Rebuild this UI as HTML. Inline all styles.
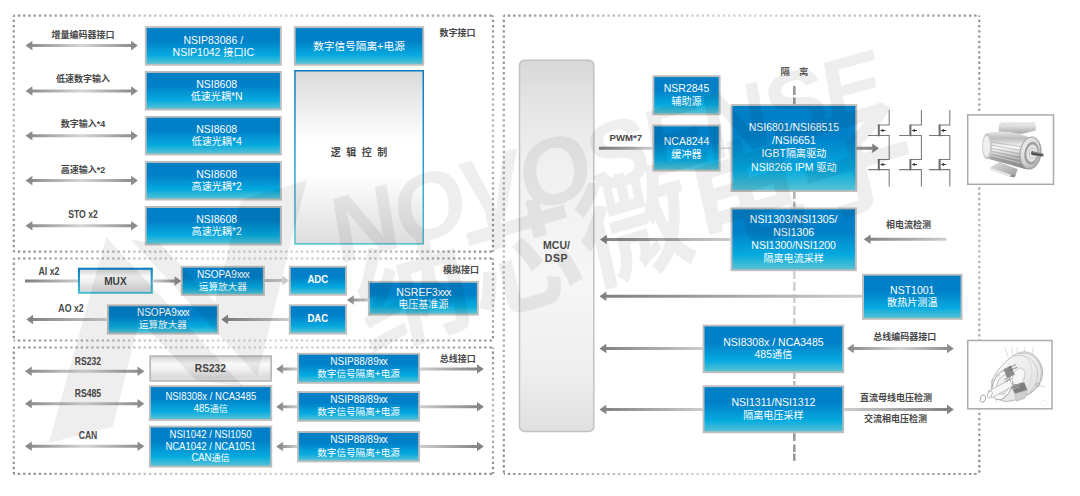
<!DOCTYPE html>
<html lang="zh"><head><meta charset="utf-8"><title>Servo drive block diagram</title>
<style>
html,body{margin:0;padding:0;background:#fff}
#c{position:relative;width:1080px;height:496px;overflow:hidden;background:#fff;font-family:"Liberation Sans","Noto Sans CJK SC",sans-serif}
#c svg{position:absolute;left:0;top:0}
.bt{position:absolute;display:flex;align-items:center;justify-content:center;text-align:center;color:#fff;white-space:nowrap;box-sizing:border-box}
.bt.b{font-weight:bold}
.wt{position:absolute;display:flex;align-items:center;justify-content:center;text-align:center;color:#444;font-weight:bold;white-space:nowrap}
.lb{position:absolute;text-align:center;color:#484848;font-weight:bold;white-space:nowrap;line-height:16px;height:16px}
.x{letter-spacing:-1px}
.c{font-size:0.96em}
</style></head>
<body><div id="c">
<svg width="1080" height="496" viewBox="0 0 1080 496">
<defs>
<linearGradient id="gblue" x1="0" y1="0" x2="0" y2="1"><stop offset="0" stop-color="#007fc7"/><stop offset="0.36" stop-color="#0080c8"/><stop offset="0.76" stop-color="#05aadf"/><stop offset="1" stop-color="#56c2d4"/></linearGradient>
<linearGradient id="gwhite" x1="0" y1="0" x2="0" y2="1"><stop offset="0" stop-color="#d6d6d6"/><stop offset="0.3" stop-color="#fafafa"/><stop offset="0.55" stop-color="#f0f0f0"/><stop offset="0.9" stop-color="#d9d9d9"/><stop offset="1" stop-color="#e4e4e4"/></linearGradient>
<linearGradient id="gbord" x1="0" y1="0" x2="0" y2="1"><stop offset="0" stop-color="#0a7cc4"/><stop offset="1" stop-color="#4cc0d2"/></linearGradient>
<linearGradient id="glogic" x1="0" y1="0" x2="0" y2="1"><stop offset="0" stop-color="#dadada"/><stop offset="0.4" stop-color="#ffffff"/><stop offset="0.6" stop-color="#ffffff"/><stop offset="1" stop-color="#dddddd"/></linearGradient>
<linearGradient id="gmcu" x1="0" y1="0" x2="0" y2="1"><stop offset="0" stop-color="#d8d8d8"/><stop offset="0.14" stop-color="#e7e7e7"/><stop offset="0.3" stop-color="#f1f1f1"/><stop offset="0.6" stop-color="#f6f6f6"/><stop offset="0.85" stop-color="#eeeeee"/><stop offset="1" stop-color="#e0e0e0"/></linearGradient>
<linearGradient id="gdot" x1="0" y1="0" x2="1" y2="0"><stop offset="0" stop-color="#9a9a9a"/><stop offset="0.5" stop-color="#d2d2d2"/><stop offset="1" stop-color="#9a9a9a"/></linearGradient>
<linearGradient id="gL" x1="0" y1="0" x2="1" y2="0"><stop offset="0" stop-color="#7f7f7f"/><stop offset="1" stop-color="#cdcdcd"/></linearGradient>
<linearGradient id="gR" x1="0" y1="0" x2="1" y2="0"><stop offset="0" stop-color="#cdcdcd"/><stop offset="1" stop-color="#7f7f7f"/></linearGradient>
<linearGradient id="gRl" x1="0" y1="0" x2="1" y2="0"><stop offset="0" stop-color="#b5b5b5"/><stop offset="1" stop-color="#d0d0d0"/></linearGradient>
<linearGradient id="gRd" x1="0" y1="0" x2="1" y2="0"><stop offset="0" stop-color="#999"/><stop offset="1" stop-color="#777"/></linearGradient>
<linearGradient id="gD" x1="0" y1="0" x2="1" y2="0"><stop offset="0" stop-color="#858585"/><stop offset="0.5" stop-color="#d6d6d6"/><stop offset="1" stop-color="#858585"/></linearGradient>
<linearGradient id="mbody" x1="0" y1="0" x2="0" y2="1"><stop offset="0" stop-color="#e9e9e9"/><stop offset="0.18" stop-color="#bdbdbd"/><stop offset="0.42" stop-color="#f6f6f6"/><stop offset="0.7" stop-color="#a6a6a6"/><stop offset="1" stop-color="#858585"/></linearGradient>
<linearGradient id="mbox" x1="0" y1="0" x2="0" y2="1"><stop offset="0" stop-color="#e6e6e6"/><stop offset="1" stop-color="#a8a8a8"/></linearGradient>
<radialGradient id="mfl" cx="0.4" cy="0.4" r="0.7"><stop offset="0" stop-color="#ffffff"/><stop offset="0.6" stop-color="#d6d6d6"/><stop offset="1" stop-color="#9a9a9a"/></radialGradient>
<linearGradient id="mfoot" x1="0" y1="0" x2="1" y2="1"><stop offset="0" stop-color="#dedede"/><stop offset="1" stop-color="#9c9c9c"/></linearGradient>
<linearGradient id="ebody" x1="0" y1="0" x2="1" y2="1"><stop offset="0" stop-color="#fdfdfd"/><stop offset="1" stop-color="#dcdcdc"/></linearGradient>
<linearGradient id="ph1" gradientUnits="userSpaceOnUse" x1="13.8" y1="0" x2="493.0" y2="0"><stop offset="0" stop-color="#8e8e8e"/><stop offset="0.25" stop-color="#bdbdbd"/><stop offset="0.5" stop-color="#d4d4d4"/><stop offset="0.75" stop-color="#bdbdbd"/><stop offset="1" stop-color="#8e8e8e"/></linearGradient><linearGradient id="pv1" gradientUnits="userSpaceOnUse" x1="0" y1="15.6" x2="0" y2="251.7"><stop offset="0" stop-color="#8e8e8e"/><stop offset="0.3" stop-color="#acacac"/><stop offset="0.5" stop-color="#b6b6b6"/><stop offset="0.7" stop-color="#acacac"/><stop offset="1" stop-color="#8e8e8e"/></linearGradient><linearGradient id="ph2" gradientUnits="userSpaceOnUse" x1="13.8" y1="0" x2="493.0" y2="0"><stop offset="0" stop-color="#8e8e8e"/><stop offset="0.25" stop-color="#bdbdbd"/><stop offset="0.5" stop-color="#d4d4d4"/><stop offset="0.75" stop-color="#bdbdbd"/><stop offset="1" stop-color="#8e8e8e"/></linearGradient><linearGradient id="pv2" gradientUnits="userSpaceOnUse" x1="0" y1="258.5" x2="0" y2="340.5"><stop offset="0" stop-color="#8e8e8e"/><stop offset="0.3" stop-color="#acacac"/><stop offset="0.5" stop-color="#b6b6b6"/><stop offset="0.7" stop-color="#acacac"/><stop offset="1" stop-color="#8e8e8e"/></linearGradient><linearGradient id="ph3" gradientUnits="userSpaceOnUse" x1="13.8" y1="0" x2="493.0" y2="0"><stop offset="0" stop-color="#8e8e8e"/><stop offset="0.25" stop-color="#bdbdbd"/><stop offset="0.5" stop-color="#d4d4d4"/><stop offset="0.75" stop-color="#bdbdbd"/><stop offset="1" stop-color="#8e8e8e"/></linearGradient><linearGradient id="pv3" gradientUnits="userSpaceOnUse" x1="0" y1="347.5" x2="0" y2="473.8"><stop offset="0" stop-color="#8e8e8e"/><stop offset="0.3" stop-color="#acacac"/><stop offset="0.5" stop-color="#b6b6b6"/><stop offset="0.7" stop-color="#acacac"/><stop offset="1" stop-color="#8e8e8e"/></linearGradient><linearGradient id="ph4" gradientUnits="userSpaceOnUse" x1="503.8" y1="0" x2="979.3" y2="0"><stop offset="0" stop-color="#8e8e8e"/><stop offset="0.25" stop-color="#bdbdbd"/><stop offset="0.5" stop-color="#d4d4d4"/><stop offset="0.75" stop-color="#bdbdbd"/><stop offset="1" stop-color="#8e8e8e"/></linearGradient><linearGradient id="pv4" gradientUnits="userSpaceOnUse" x1="0" y1="15.6" x2="0" y2="474.0"><stop offset="0" stop-color="#8e8e8e"/><stop offset="0.3" stop-color="#acacac"/><stop offset="0.5" stop-color="#b6b6b6"/><stop offset="0.7" stop-color="#acacac"/><stop offset="1" stop-color="#8e8e8e"/></linearGradient></defs>
<path d="M13.8 15.6H493.0M13.8 251.7H493.0" fill="none" stroke="url(#ph1)" stroke-width="2.2" stroke-dasharray="2.3 2.94" stroke-dashoffset="1.15"/>
<path d="M13.8 15.6V251.7M493.0 15.6V251.7" fill="none" stroke="url(#pv1)" stroke-width="2.2" stroke-dasharray="2.3 2.94" stroke-dashoffset="1.15"/>
<path d="M13.8 258.5H493.0M13.8 340.5H493.0" fill="none" stroke="url(#ph2)" stroke-width="2.2" stroke-dasharray="2.3 2.94" stroke-dashoffset="1.15"/>
<path d="M13.8 258.5V340.5M493.0 258.5V340.5" fill="none" stroke="url(#pv2)" stroke-width="2.2" stroke-dasharray="2.3 2.94" stroke-dashoffset="1.15"/>
<path d="M13.8 347.5H493.0M13.8 473.8H493.0" fill="none" stroke="url(#ph3)" stroke-width="2.2" stroke-dasharray="2.3 2.94" stroke-dashoffset="1.15"/>
<path d="M13.8 347.5V473.8M493.0 347.5V473.8" fill="none" stroke="url(#pv3)" stroke-width="2.2" stroke-dasharray="2.3 2.94" stroke-dashoffset="1.15"/>
<path d="M503.8 15.6H979.3M503.8 474.0H979.3" fill="none" stroke="url(#ph4)" stroke-width="2.2" stroke-dasharray="2.3 2.94" stroke-dashoffset="1.15"/>
<path d="M503.8 15.6V474.0M979.3 15.6V474.0" fill="none" stroke="url(#pv4)" stroke-width="2.2" stroke-dasharray="2.3 2.94" stroke-dashoffset="1.15"/>
<rect x="144.8" y="26.2" width="137.0" height="39.5" fill="#bebebe"/>
<rect x="146.7" y="28.1" width="133.2" height="35.7" fill="url(#gblue)"/>
<polygon points="25.60,45.60 32.40,40.80 32.40,44.10 131.00,44.10 131.00,40.80 137.80,45.60 131.00,50.40 131.00,47.10 32.40,47.10 32.40,50.40" fill="url(#gD)"/>
<rect x="144.8" y="71.0" width="137.0" height="39.5" fill="#bebebe"/>
<rect x="146.7" y="72.9" width="133.2" height="35.7" fill="url(#gblue)"/>
<polygon points="25.60,91.00 32.40,86.20 32.40,89.50 131.00,89.50 131.00,86.20 137.80,91.00 131.00,95.80 131.00,92.50 32.40,92.50 32.40,95.80" fill="url(#gD)"/>
<rect x="144.8" y="115.9" width="137.0" height="39.5" fill="#bebebe"/>
<rect x="146.7" y="117.8" width="133.2" height="35.7" fill="url(#gblue)"/>
<polygon points="25.60,135.80 32.40,131.00 32.40,134.30 131.00,134.30 131.00,131.00 137.80,135.80 131.00,140.60 131.00,137.30 32.40,137.30 32.40,140.60" fill="url(#gD)"/>
<rect x="144.8" y="161.0" width="137.0" height="39.5" fill="#bebebe"/>
<rect x="146.7" y="162.9" width="133.2" height="35.7" fill="url(#gblue)"/>
<polygon points="25.60,180.60 32.40,175.80 32.40,179.10 131.00,179.10 131.00,175.80 137.80,180.60 131.00,185.40 131.00,182.10 32.40,182.10 32.40,185.40" fill="url(#gD)"/>
<rect x="144.8" y="206.0" width="137.0" height="39.5" fill="#bebebe"/>
<rect x="146.7" y="207.9" width="133.2" height="35.7" fill="url(#gblue)"/>
<polygon points="25.60,225.80 32.40,221.00 32.40,224.30 131.00,224.30 131.00,221.00 137.80,225.80 131.00,230.60 131.00,227.30 32.40,227.30 32.40,230.60" fill="url(#gD)"/>
<rect x="293.8" y="26.2" width="130.4" height="39.5" fill="#bebebe"/>
<rect x="295.7" y="28.1" width="126.6" height="35.7" fill="url(#gblue)"/>
<rect x="294.2" y="70" width="129.8" height="174.6" fill="url(#gbord)"/>
<rect x="295.7" y="71.5" width="126.8" height="171.6" fill="url(#glogic)"/>
<polygon points="25.00,279.50 79.00,279.50 79.00,282.50 25.00,282.50" fill="url(#gL)"/>
<rect x="77.9" y="267.7" width="74.9" height="26.1" fill="url(#gbord)"/>
<rect x="80.0" y="269.8" width="70.7" height="21.9" fill="url(#gwhite)"/>
<polygon points="152.50,279.50 174.50,279.50 174.50,276.20 181.30,281.00 174.50,285.80 174.50,282.50 152.50,282.50" fill="url(#gR)"/>
<rect x="180.8" y="265.8" width="84.0" height="30.0" fill="#bebebe"/>
<rect x="182.7" y="267.7" width="80.2" height="26.2" fill="url(#gblue)"/>
<polygon points="264.30,279.10 282.40,279.10 282.40,275.80 289.20,280.60 282.40,285.40 282.40,282.10 264.30,282.10" fill="url(#gRl)"/>
<rect x="288.8" y="265.8" width="58.2" height="29.9" fill="#bebebe"/>
<rect x="290.7" y="267.7" width="54.4" height="26.1" fill="url(#gblue)"/>
<rect x="288.8" y="304.3" width="58.2" height="30.2" fill="#bebebe"/>
<rect x="290.7" y="306.2" width="54.4" height="26.4" fill="url(#gblue)"/>
<rect x="367.9" y="280.9" width="110.9" height="34.7" fill="#bebebe"/>
<rect x="369.8" y="282.8" width="107.1" height="30.9" fill="url(#gblue)"/>
<polygon points="347.00,300.00 353.80,295.20 353.80,298.50 368.50,298.50 368.50,301.50 353.80,301.50 353.80,304.80" fill="url(#gL)"/>
<polygon points="221.30,319.40 228.10,314.60 228.10,317.90 289.60,317.90 289.60,320.90 228.10,320.90 228.10,324.20" fill="url(#gL)"/>
<rect x="107.0" y="304.4" width="111.8" height="30.2" fill="#bebebe"/>
<rect x="108.9" y="306.3" width="108" height="26.4" fill="url(#gblue)"/>
<polygon points="26.30,319.50 33.10,314.70 33.10,318.00 107.60,318.00 107.60,321.00 33.10,321.00 33.10,324.30" fill="url(#gL)"/>
<polygon points="25.00,371.20 31.80,366.40 31.80,369.70 137.50,369.70 137.50,366.40 144.30,371.20 137.50,376.00 137.50,372.70 31.80,372.70 31.80,376.00" fill="url(#gD)"/>
<polygon points="276.30,369.00 283.10,364.20 283.10,367.50 297.20,367.50 297.20,370.50 283.10,370.50 283.10,373.80" fill="url(#gL)"/>
<polygon points="420.00,367.50 477.00,367.50 477.00,364.20 483.80,369.00 477.00,373.80 477.00,370.50 420.00,370.50" fill="url(#gR)"/>
<polygon points="25.00,403.80 31.80,399.00 31.80,402.30 137.50,402.30 137.50,399.00 144.30,403.80 137.50,408.60 137.50,405.30 31.80,405.30 31.80,408.60" fill="url(#gD)"/>
<polygon points="276.30,406.80 283.10,402.00 283.10,405.30 297.20,405.30 297.20,408.30 283.10,408.30 283.10,411.60" fill="url(#gL)"/>
<polygon points="420.00,405.30 477.00,405.30 477.00,402.00 483.80,406.80 477.00,411.60 477.00,408.30 420.00,408.30" fill="url(#gR)"/>
<polygon points="25.00,446.30 31.80,441.50 31.80,444.80 137.50,444.80 137.50,441.50 144.30,446.30 137.50,451.10 137.50,447.80 31.80,447.80 31.80,451.10" fill="url(#gD)"/>
<polygon points="276.30,446.50 283.10,441.70 283.10,445.00 297.20,445.00 297.20,448.00 283.10,448.00 283.10,451.30" fill="url(#gL)"/>
<polygon points="420.00,445.00 477.00,445.00 477.00,441.70 483.80,446.50 477.00,451.30 477.00,448.00 420.00,448.00" fill="url(#gR)"/>
<rect x="149.3" y="355.3" width="122.7" height="26.4" fill="#b8b8b8"/>
<rect x="151.0" y="357.0" width="119.3" height="23" fill="url(#gwhite)"/>
<rect x="148.9" y="385.2" width="123.3" height="35.7" fill="#bebebe"/>
<rect x="150.8" y="387.1" width="119.5" height="31.9" fill="url(#gblue)"/>
<rect x="148.9" y="425.6" width="123.3" height="42.0" fill="#bebebe"/>
<rect x="150.8" y="427.5" width="119.5" height="38.2" fill="url(#gblue)"/>
<rect x="297.0" y="352.8" width="123.1" height="31.0" fill="#bebebe"/>
<rect x="298.9" y="354.7" width="119.3" height="27.2" fill="url(#gblue)"/>
<rect x="297.0" y="391.1" width="123.1" height="30.7" fill="#bebebe"/>
<rect x="298.9" y="393.0" width="119.3" height="26.9" fill="url(#gblue)"/>
<rect x="297.0" y="431.0" width="123.1" height="31.3" fill="#bebebe"/>
<rect x="298.9" y="432.9" width="119.3" height="27.5" fill="url(#gblue)"/>
<rect x="519.5" y="60.2" width="74.3" height="371.2" rx="5" ry="5" fill="url(#gmcu)" stroke="#c2c2c2" stroke-width="1.5"/>
<rect x="793" y="86" width="2.6" height="9" fill="#9a9a9a"/>
<rect x="793" y="97.5" width="2.6" height="7.5" fill="#9a9a9a"/>
<rect x="793" y="192" width="2.6" height="7" fill="#b5b5b5"/>
<rect x="793" y="201.5" width="2.6" height="6.0" fill="#b5b5b5"/>
<rect x="793" y="271.2" width="2.6" height="7.8" fill="#d2d2d2"/>
<rect x="793" y="282" width="2.6" height="9" fill="#d2d2d2"/>
<rect x="793" y="294" width="2.6" height="9" fill="#d2d2d2"/>
<rect x="793" y="306" width="2.6" height="9" fill="#d2d2d2"/>
<rect x="793" y="318" width="2.6" height="6.6" fill="#d2d2d2"/>
<rect x="793" y="373.2" width="2.6" height="5.8" fill="#bdbdbd"/>
<rect x="793" y="381" width="2.6" height="4.3" fill="#bdbdbd"/>
<rect x="793" y="433.2" width="2.6" height="7.8" fill="#9a9a9a"/>
<rect x="793" y="444.5" width="2.6" height="7.5" fill="#9a9a9a"/>
<rect x="793" y="453.5" width="2.6" height="7.3" fill="#9a9a9a"/>
<rect x="652.4" y="75.2" width="68.2" height="40.1" fill="#bebebe"/>
<rect x="654.3" y="77.1" width="64.4" height="36.3" fill="url(#gblue)"/>
<rect x="652.4" y="124.5" width="68.2" height="47.0" fill="#bebebe"/>
<rect x="654.3" y="126.4" width="64.4" height="43.2" fill="url(#gblue)"/>
<polygon points="599.00,146.80 652.60,146.80 652.60,149.80 599.00,149.80" fill="url(#gL)"/>
<rect x="720.5" y="147.6" width="10.8" height="1.2" fill="#c8c8c8"/>
<rect x="730.6" y="104.1" width="126.6" height="87.9" fill="#bebebe"/>
<rect x="732.5" y="106.0" width="122.8" height="84.1" fill="url(#gblue)"/>
<polygon points="856.30,146.70 872.20,146.70 872.20,143.40 879.00,148.20 872.20,153.00 872.20,149.70 856.30,149.70" fill="url(#gRd)"/>
<rect x="730.5" y="207.5" width="126.3" height="63.7" fill="#bebebe"/>
<rect x="732.4" y="209.4" width="122.5" height="59.9" fill="url(#gblue)"/>
<polygon points="600.00,239.50 606.80,234.70 606.80,238.00 731.40,238.00 731.40,241.00 606.80,241.00 606.80,244.30" fill="url(#gL)"/>
<polygon points="863.80,239.20 870.60,234.40 870.60,237.70 946.30,237.70 946.30,240.70 870.60,240.70 870.60,244.00" fill="url(#gL)"/>
<rect x="862.1" y="273.8" width="100.4" height="46.0" fill="#bebebe"/>
<rect x="864.0" y="275.7" width="96.6" height="42.2" fill="url(#gblue)"/>
<polygon points="599.50,296.30 606.30,291.50 606.30,294.80 862.60,294.80 862.60,297.80 606.30,297.80 606.30,301.10" fill="url(#gL)"/>
<rect x="702.6" y="324.6" width="141.6" height="48.6" fill="#bebebe"/>
<rect x="704.5" y="326.5" width="137.8" height="44.8" fill="url(#gblue)"/>
<polygon points="599.50,348.50 606.30,343.70 606.30,347.00 703.10,347.00 703.10,350.00 606.30,350.00 606.30,353.30" fill="url(#gL)"/>
<polygon points="847.00,348.50 853.80,343.70 853.80,347.00 947.00,347.00 947.00,343.70 953.80,348.50 947.00,353.30 947.00,350.00 853.80,350.00 853.80,353.30" fill="url(#gD)"/>
<rect x="702.6" y="385.3" width="141.6" height="47.9" fill="#bebebe"/>
<rect x="704.5" y="387.2" width="137.8" height="44.1" fill="url(#gblue)"/>
<polygon points="599.50,409.50 606.30,404.70 606.30,408.00 703.10,408.00 703.10,411.00 606.30,411.00 606.30,414.30" fill="url(#gL)"/>
<polygon points="843.70,408.00 947.00,408.00 947.00,404.70 953.80,409.50 947.00,414.30 947.00,411.00 843.70,411.00" fill="url(#gR)"/>
<path d="M889.2 110V124.9H878.8M868.2 135.5H889.2V159.4H878.8M868.2 169.6H889.2V186.5" fill="none" stroke="#7a7a7a" stroke-width="1.05"/><path d="M878.8 124.4V136.2M878.8 158.9V170.3" fill="none" stroke="#6a6a6a" stroke-width="2"/><path d="M880.0 130.4l3.2 -1.5v3zM882.8 129.9h2.6v1h-2.6z" fill="#333"/><path d="M880.0 164.6l3.2 -1.5v3zM882.8 164.1h2.6v1h-2.6z" fill="#333"/>
<path d="M921.4 110V124.9H910.4M899.2 135.5H921.4V159.4H910.4M899.2 169.6H921.4V186.5" fill="none" stroke="#7a7a7a" stroke-width="1.05"/><path d="M910.4 124.4V136.2M910.4 158.9V170.3" fill="none" stroke="#6a6a6a" stroke-width="2"/><path d="M911.6 130.4l3.2 -1.5v3zM914.4 129.9h2.6v1h-2.6z" fill="#333"/><path d="M911.6 164.6l3.2 -1.5v3zM914.4 164.1h2.6v1h-2.6z" fill="#333"/>
<path d="M949.8 110V124.9H939.6M929.0 135.5H949.8V159.4H939.6M929.0 169.6H949.8V186.5" fill="none" stroke="#7a7a7a" stroke-width="1.05"/><path d="M939.6 124.4V136.2M939.6 158.9V170.3" fill="none" stroke="#6a6a6a" stroke-width="2"/><path d="M940.8 130.4l3.2 -1.5v3zM943.6 129.9h2.6v1h-2.6z" fill="#333"/><path d="M940.8 164.6l3.2 -1.5v3zM943.6 164.1h2.6v1h-2.6z" fill="#333"/>
<g id="motor">
<rect x="967.7" y="114.9" width="85.8" height="69.4" fill="#fff" stroke="#ababab" stroke-width="1.5"/>
<g transform="translate(960 108) scale(0.17)">
<!-- junction box -->
<path d="M228 100L240 84H438L446 100Z" fill="#e4e4e4"/>
<path d="M228 100H446V132L368 152H228Z" fill="url(#mbox)"/>
<ellipse cx="262" cy="110" rx="9" ry="7" fill="#f4f4f4" stroke="#999" stroke-width="2"/><ellipse cx="315" cy="110" rx="9" ry="7" fill="#f4f4f4" stroke="#999" stroke-width="2"/>
<!-- feet -->
<path d="M178 350L232 318L340 360L322 408L296 404L180 364Z" fill="url(#mfoot)"/>
<path d="M180 364L296 404L300 392L182 352Z" fill="#e9e9e9"/>
<path d="M296 404L322 408L326 396L300 392Z" fill="#8e8e8e"/>
<!-- body -->
<path d="M165 148C230 128 330 140 402 170L392 360C330 345 230 315 168 300C120 285 120 165 165 148Z" fill="url(#mbody)"/>
<g stroke="#8a8a8a" stroke-width="3" opacity="0.75" fill="none"><path d="M180 200L385 232M180 218L385 254M180 236L385 276M182 254L385 298M184 272L385 320M190 290L385 340"/></g>
<g stroke="#fdfdfd" stroke-width="3" opacity="0.8" fill="none"><path d="M180 209L385 243M180 227L385 265M181 245L385 287M183 263L385 309M187 281L385 330"/></g>
<ellipse cx="160" cy="225" rx="30" ry="77" fill="#c9c9c9"/>
<ellipse cx="156" cy="225" rx="21" ry="62" fill="#efefef"/>
<!-- flange -->
<ellipse cx="415" cy="265" rx="62" ry="96" fill="url(#mfl)" stroke="#8d8d8d" stroke-width="4" transform="rotate(8 415 265)"/>
<ellipse cx="420" cy="266" rx="42" ry="68" fill="#9f9f9f" transform="rotate(8 420 266)"/>
<ellipse cx="423" cy="266" rx="32" ry="52" fill="#e2e2e2" transform="rotate(8 423 266)"/>
<ellipse cx="425" cy="266" rx="17" ry="27" fill="#f6f6f6" stroke="#909090" stroke-width="3"/>
<ellipse cx="426" cy="266" rx="9" ry="14" fill="#6e6e6e"/>
<!-- shaft -->
<path d="M426 256L488 268L488 286L426 276Z" fill="#4e4e4e"/>
<path d="M428 259L488 271" stroke="#c4c4c4" stroke-width="3"/>
<ellipse cx="489" cy="277" rx="4.5" ry="9" fill="#8c8c8c"/>
</g>
</g>

<g id="encoder">
<rect x="967.7" y="340.5" width="84.3" height="68.3" fill="#fff" stroke="#ababab" stroke-width="1.5"/>
<g transform="translate(960 334) scale(0.17)">
<g fill="none" stroke="#858585" stroke-width="3.4" stroke-linecap="round">
<path d="M265 80L285 140M305 80L310 130M335 80L340 118M380 80L378 108M432 80L425 112" stroke="#b4b4b4" stroke-width="2.6"/>
<!-- housing silhouette -->
<path d="M188 275C205 225 270 150 330 118C395 85 455 120 480 190C500 250 470 310 420 345C370 378 300 400 262 396C215 390 175 330 188 275Z" fill="url(#ebody)" stroke="#8e8e8e"/>
<!-- back rings -->
<path d="M345 118C420 100 470 150 478 215C484 270 455 318 410 348" stroke="#a4a4a4"/>
<path d="M318 130C400 112 452 165 456 228C459 280 432 325 392 355" stroke="#b0b0b0"/>
<path d="M380 135C430 160 440 250 395 330" stroke="#d0d0d0"/>
<!-- front face -->
<ellipse cx="250" cy="300" rx="56" ry="92" fill="#fbfbfb" stroke="#787878" transform="rotate(22 250 300)"/>
<ellipse cx="255" cy="298" rx="36" ry="60" fill="#efefef" stroke="#a8a8a8" transform="rotate(22 255 298)"/>
<circle cx="222" cy="245" r="8" stroke="#b0b0b0" stroke-width="2.4"/>
<circle cx="262" cy="358" r="8" stroke="#b0b0b0" stroke-width="2.4"/>
<!-- inner hub -->
<ellipse cx="345" cy="250" rx="34" ry="52" fill="#f6f6f6" stroke="#b5b5b5" transform="rotate(22 345 250)"/>
</g>
<!-- dark cut sections -->
<path d="M256 208L300 186L322 240L276 258Z" fill="#8d8d8d"/>
<path d="M300 302L378 284L396 330L322 352Z" fill="#7e7e7e"/>
<path d="M322 352L396 330L382 378L332 396Z" fill="#cfcfcf" stroke="#a0a0a0" stroke-width="2"/>
<path d="M285 200L330 180M290 215L338 195M262 268L300 250M266 280L304 262" stroke="#5e5e5e" stroke-width="4"/>
<path d="M300 312L350 296M304 324L352 310" stroke="#d8d8d8" stroke-width="3"/>
<!-- shaft -->
<path d="M166 336L292 270L312 306L186 376Z" fill="#f8f8f8" stroke="#8c8c8c" stroke-width="3"/>
<ellipse cx="175" cy="356" rx="12" ry="22" fill="#fff" stroke="#8c8c8c" stroke-width="3" transform="rotate(25 175 356)"/>
<!-- retaining ring -->
<ellipse cx="135" cy="380" rx="15" ry="22" fill="none" stroke="#8c8c8c" stroke-width="4" transform="rotate(18 135 380)"/>
<path d="M118 372L108 368M120 392L110 396" stroke="#b0b0b0" stroke-width="2.4"/>
<path d="M212 378L214 408" stroke="#b8b8b8" stroke-width="2.4"/>
<!-- side screw -->
<ellipse cx="458" cy="300" rx="11" ry="9" fill="#d8d8d8" stroke="#8c8c8c" stroke-width="3"/>
<path d="M468 303L500 310" stroke="#b0b0b0" stroke-width="3"/>
<ellipse cx="496" cy="405" rx="20" ry="14" fill="none" stroke="#e6e6e6" stroke-width="3"/>
</g>
</g>

</svg>
<div class="bt" style="left:144.8px;top:27.2px;width:137.0px;height:39.5px;font-size:10.5px;line-height:12.6px"><div>NSIP83086 /<br>NSIP1042 <span class=c>接口</span>IC</div></div>
<div class="lb" style="left:13.0px;top:27px;width:140px;font-size:9px">增量编码器接口</div>
<div class="bt" style="left:148.2px;top:71.0px;width:137.0px;height:39.5px;font-size:10.5px;line-height:12.6px"><div>NSI8608<br><span class=c>低速光耦</span>*N</div></div>
<div class="lb" style="left:13.0px;top:70.9px;width:140px;font-size:9px">低速数字输入</div>
<div class="bt" style="left:148.2px;top:115.9px;width:137.0px;height:39.5px;font-size:10.5px;line-height:12.6px"><div>NSI8608<br><span class=c>低速光耦</span>*4</div></div>
<div class="lb" style="left:13.0px;top:116px;width:140px;font-size:9px">数字输入*4</div>
<div class="bt" style="left:148.2px;top:161.0px;width:137.0px;height:39.5px;font-size:10.5px;line-height:12.6px"><div>NSI8608<br><span class=c>高速光耦</span>*2</div></div>
<div class="lb" style="left:13.0px;top:161.5px;width:140px;font-size:9px">高速输入*2</div>
<div class="bt" style="left:148.2px;top:206.0px;width:137.0px;height:39.5px;font-size:10.5px;line-height:12.6px"><div>NSI8608<br><span class=c>高速光耦</span>*2</div></div>
<div class="lb" style="left:13.0px;top:206.5px;width:140px;font-size:10px;transform:scaleX(0.86)">STO x2</div>
<div class="bt" style="left:293.8px;top:26.2px;width:130.4px;height:39.5px;font-size:11.1px;line-height:12.6px"><div><span class=c>数字信号隔离</span>+<span class=c>电源</span></div></div>
<div class="lb" style="left:294px;top:145px;width:130px;font-size:10px;letter-spacing:5.5px;text-indent:5.5px">逻辑控制</div>
<div class="lb" style="left:387.5px;top:25px;width:140px;font-size:9px">数字接口</div>
<div class="lb" style="left:-20.6px;top:263.8px;width:140px;font-size:10px;transform:scaleX(0.88)">AI x2</div>
<div class="wt" style="left:77.9px;top:267.7px;width:74.9px;height:26.1px;font-size:11.5px;transform:scaleX(0.88)">MUX</div>
<div class="bt" style="left:180.8px;top:265.8px;width:84.0px;height:30.0px;font-size:10px;line-height:12px"><div>NSOPA9<span class=x>xxx</span><br><span class=c>运算放大器</span></div></div>
<div class="bt b" style="left:288.8px;top:265.8px;width:58.2px;height:29.9px;font-size:10px;line-height:12.6px"><div style="transform:scaleX(0.96)">ADC</div></div>
<div class="bt b" style="left:288.8px;top:304.3px;width:58.2px;height:30.2px;font-size:10px;line-height:12.6px"><div style="transform:scaleX(0.96)">DAC</div></div>
<div class="bt" style="left:367.9px;top:280.9px;width:110.9px;height:34.7px;font-size:10.5px;line-height:12px"><div>NSREF3<span class=x>xxx</span><br><span class=c>电压基准源</span></div></div>
<div class="bt" style="left:107.0px;top:304.4px;width:111.8px;height:30.2px;font-size:10px;line-height:12px"><div>NSOPA9<span class=x>xxx</span><br><span class=c>运算放大器</span></div></div>
<div class="lb" style="left:0.5px;top:300.8px;width:140px;font-size:10px;transform:scaleX(0.88)">AO x2</div>
<div class="lb" style="left:391.0px;top:262px;width:140px;font-size:9px">模拟接口</div>
<div class="lb" style="left:17.6px;top:353.8px;width:140px;font-size:10px;transform:scaleX(0.86)">RS232</div>
<div class="lb" style="left:17.6px;top:386px;width:140px;font-size:10px;transform:scaleX(0.86)">RS485</div>
<div class="lb" style="left:17.6px;top:427.8px;width:140px;font-size:10px;transform:scaleX(0.86)">CAN</div>
<div class="wt" style="left:149.3px;top:355.3px;width:122.7px;height:26.4px;font-size:11.5px;transform:scaleX(0.88)">RS232</div>
<div class="bt" style="left:148.9px;top:385.2px;width:123.3px;height:35.7px;font-size:10px;line-height:12.2px"><div style="transform:scaleX(0.95)">NSI8308x / NCA3485<br>485<span class=c>通信</span></div></div>
<div class="bt" style="left:148.9px;top:425.6px;width:123.3px;height:42.0px;font-size:10px;line-height:11.7px"><div style="transform:scaleX(0.95)">NSI1042 / NSI1050<br>NCA1042 / NCA1051<br>CAN<span class=c>通信</span></div></div>
<div class="bt" style="left:297.0px;top:352.8px;width:123.1px;height:31.0px;font-size:10px;line-height:12.2px"><div>NSIP88/89<span class=x>xx</span><br><span class=c>数字信号隔离</span>+<span class=c>电源</span></div></div>
<div class="bt" style="left:297.0px;top:391.1px;width:123.1px;height:30.7px;font-size:10px;line-height:12.2px"><div>NSIP88/89<span class=x>xx</span><br><span class=c>数字信号隔离</span>+<span class=c>电源</span></div></div>
<div class="bt" style="left:297.0px;top:431.0px;width:123.1px;height:31.3px;font-size:10px;line-height:12.2px"><div>NSIP88/89<span class=x>xx</span><br><span class=c>数字信号隔离</span>+<span class=c>电源</span></div></div>
<div class="lb" style="left:387.8px;top:350.5px;width:140px;font-size:9px">总线接口</div>
<div class="lb" style="left:519px;top:239px;width:75px;font-size:10.5px;line-height:12.5px">MCU/<br><span style="letter-spacing:0.6px">DSP</span></div>
<div class="lb" style="left:764.5px;top:63.6px;width:60px;font-size:9.4px;color:#5c5c5c;word-spacing:2px">隔&nbsp; 离</div>
<div class="bt" style="left:652.4px;top:75.2px;width:68.2px;height:40.1px;font-size:10.5px;line-height:12.6px"><div>NSR2845<br><span class=c>辅助源</span></div></div>
<div class="bt" style="left:652.4px;top:124.5px;width:68.2px;height:47.0px;font-size:10.5px;line-height:12.6px"><div>NCA8244<br><span class=c>缓冲器</span></div></div>
<div class="lb" style="left:555.8px;top:130.3px;width:140px;font-size:9.6px">PWM*7</div>
<div class="bt" style="left:730.6px;top:104.1px;width:126.6px;height:87.9px;font-size:10.5px;line-height:12.9px"><div>NSI6801/NSI68515<br>/NSI6651<br>IGBT<span class=c>隔离驱动</span><br>NSI8266 IPM <span class=c>驱动</span></div></div>
<div class="bt" style="left:730.5px;top:207.5px;width:126.3px;height:63.7px;font-size:10.5px;line-height:12.9px"><div>NSI1303/NSI1305/<br>NSI1306<br>NSI1300/NSI1200<br><span class=c>隔离电流采样</span></div></div>
<div class="lb" style="left:838.4px;top:217.3px;width:140px;font-size:9px">相电流检测</div>
<div class="bt" style="left:862.1px;top:273.8px;width:100.4px;height:46.0px;font-size:10.5px;line-height:12.6px"><div>NST1001<br><span class=c>散热片测温</span></div></div>
<div class="bt" style="left:702.6px;top:324.6px;width:141.6px;height:48.6px;font-size:10.5px;line-height:12.6px"><div>NSI8308x / NCA3485<br>485<span class=c>通信</span></div></div>
<div class="lb" style="left:834.8px;top:328.8px;width:140px;font-size:9px">总线编码器接口</div>
<div class="bt" style="left:702.6px;top:385.3px;width:141.6px;height:47.9px;font-size:10.5px;line-height:12.6px"><div>NSI1311/NSI1312<br><span class=c>隔离电压采样</span></div></div>
<div class="lb" style="left:825.9px;top:389.8px;width:140px;font-size:9px">直流母线电压检测</div>
<div class="lb" style="left:825.6px;top:411px;width:140px;font-size:9px">交流相电压检测</div>
<svg width="1080" height="496" viewBox="0 0 1080 496" style="pointer-events:none" role="img" aria-label="NOVOSENSE 纳芯微电子 watermark">
<g fill="#000" opacity="0.07">
<polygon points="106.3,237 48.8,443 112.6,426.8 139.4,319.7 196,380.5 242.8,386" opacity="0.95"/>
<polygon points="257.2,375.7 306.7,180.2 241,200 215,302.4 160.2,243.5 131,240" opacity="1"/>
<g transform="translate(337.7 264.8) rotate(-15.5) skewX(-6)"><text x="0" y="0" font-family="&quot;Liberation Sans&quot;, sans-serif" font-weight="bold" font-size="94" textLength="572" lengthAdjust="spacing">NOVOSENSE</text></g>
<g transform="translate(367 350) rotate(-16.5) skewX(-4)"><text x="0" y="0" font-family="&quot;Liberation Sans&quot;, &quot;Noto Sans CJK SC&quot;, sans-serif" font-weight="bold" font-size="115" textLength="578" lengthAdjust="spacing">纳芯微电子</text></g>
</g></svg>
</div></body></html>
